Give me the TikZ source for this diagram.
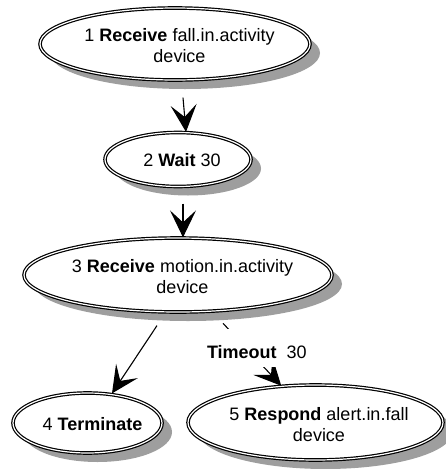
\documentclass[tikz,border=0pt]{standalone}
\usepackage{fontspec}
\setmainfont{Liberation Sans}
\usetikzlibrary{shapes.geometric,arrows.meta,backgrounds}

\begin{document}
\begin{tikzpicture}[x=1pt,y=-1pt,
  state/.style={ellipse, draw=black, line width=1.2pt, double=white,
    double distance=1.2pt, fill=white, inner sep=0pt},
  stxt/.style={inner sep=0pt, align=center, font=\fontsize{18}{21}\selectfont},
  shade/.style={fill=black!38},
  arr/.style={draw=black, line width=1.1pt,
    -{Stealth[length=27pt,width=26pt,inset=12pt]}},
  lbl/.style={fill=white, inner xsep=2pt, inner ysep=0pt,
    text height=29pt, text depth=9pt, font=\fontsize{18}{21}\selectfont}]
  \useasboundingbox (0,0) rectangle (445,469);

  % activity states (outline only; text is set a little right of centre)
  \node[state, minimum width=270pt, minimum height=72pt] (n1) at (175,44) {};
  \node[state, minimum width=146pt, minimum height=54pt] (n2) at (178,159.5) {};
  \node[state, minimum width=308pt, minimum height=74pt] (n3) at (178,275) {};
  \node[state, minimum width=149pt, minimum height=60pt] (n4) at (87.5,423) {};
  \node[state, minimum width=255pt, minimum height=75pt] (n5) at (315.5,422.5) {};

  % drop shadows behind the states
  \begin{scope}[on background layer]
    \fill[shade] ([shift={(10,9)}]n1.center) ellipse [x radius=135, y radius=36];
    \fill[shade] ([shift={(10,9)}]n2.center) ellipse [x radius=73, y radius=27];
    \fill[shade] ([shift={(10,9)}]n3.center) ellipse [x radius=154, y radius=37];
    \fill[shade] ([shift={(10,9)}]n4.center) ellipse [x radius=74.5, y radius=30];
    \fill[shade] ([shift={(10,9)}]n5.center) ellipse [x radius=127.5, y radius=37.5];
  \end{scope}

  % state texts
  \node[stxt] (n1t) at ([shift={(4.5,2)}]n1.center) {1 \textbf{Receive} fall.in.activity\\device};
  \node[stxt] (n2t) at ([shift={(4,1)}]n2.center) {2 \textbf{Wait} 30};
  \node[stxt] (n3t) at ([shift={(4.5,2)}]n3.center) {3 \textbf{Receive} motion.in.activity\\device};
  \node[stxt] (n4t) at ([shift={(5,1)}]n4.center) {4 \textbf{Terminate}};
  \node[stxt] (n5t) at ([shift={(3.5,2)}]n5.center) {5 \textbf{Respond} alert.in.fall\\device};

  % transitions
  \draw[arr] ([xshift=8pt,yshift=-17pt]n1.south) -- ([xshift=8pt]n2.north);
  \draw[arr] ([xshift=5pt,yshift=-16.5pt]n2.south) -- ([xshift=5pt]n3.north);
  \draw[arr] ([xshift=-21pt,yshift=-13pt]n3.south)
    -- ([xshift=24.5pt,yshift=-1pt]n4.north);
  \draw[arr, shorten <=16pt] (n3) --
    node[lbl, pos=0.495, xshift=10.5pt] (t35) {\textbf{Timeout}\ \ 30} (n5);
\end{tikzpicture}
\end{document}
